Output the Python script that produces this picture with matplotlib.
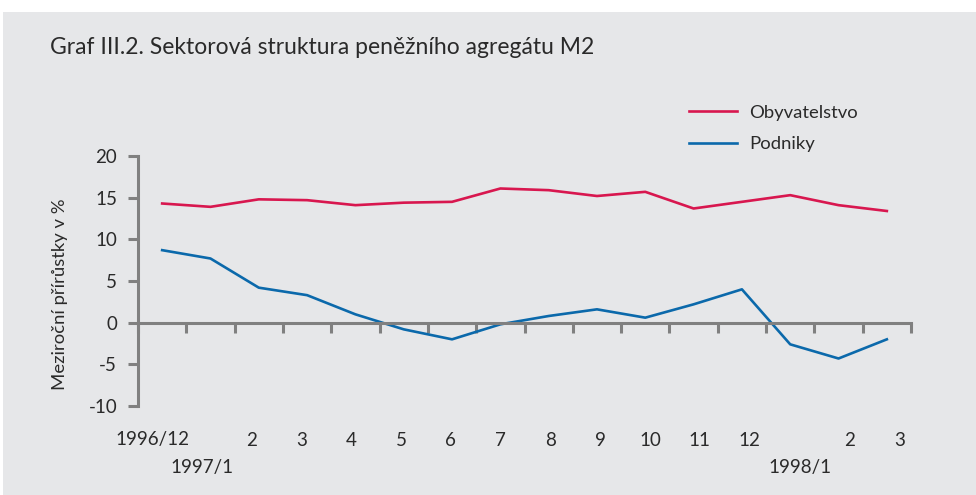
import matplotlib
matplotlib.use("Agg")
import matplotlib.pyplot as plt
import matplotlib.transforms as mtransforms

plt.rcParams['font.family'] = ['Lato', 'DejaVu Sans']

TITLE = "Graf III.2. Sektorová struktura peněžního agregátu M2"
YLABEL = "Meziroční přírůstky v %"

months = ["1996/12", "1997/1", "2", "3", "4", "5", "6", "7", "8", "9",
          "10", "11", "12", "1998/1", "2", "3"]
obyvatelstvo = [14.3, 13.9, 14.8, 14.7, 14.1, 14.4, 14.5, 16.1,
                15.9, 15.2, 15.7, 13.7, 14.5, 15.3, 14.1, 13.4]
podniky = [8.7, 7.7, 4.2, 3.3, 1.0, -0.8, -2.0, -0.2,
           0.8, 1.6, 0.6, 2.2, 4.0, -2.6, -4.3, -2.0]
yticks = [-10, -5, 0, 5, 10, 15, 20]

BG = '#e6e7e9'
AXC = '#808080'
TXT = '#2a2a2a'
RED = '#d8174f'
BLUE = '#0b69ab'

fig = plt.figure(figsize=(9.76, 4.95), dpi=100)
fig.patch.set_facecolor('white')
fig.patches.append(plt.Rectangle((3 / 976, 0), 1, 1 - 12 / 495, transform=fig.transFigure,
                                 facecolor=BG, edgecolor='none', zorder=-10))

ax = fig.add_axes([138 / 976, 1 - 406 / 495, 773 / 976, 250 / 495])
ax.patch.set_visible(False)
ax.set_zorder(5)

x = list(range(len(months)))
ax.plot(x, obyvatelstvo, color=RED, lw=1.9, label='Obyvatelstvo')
ax.plot(x, podniky, color=BLUE, lw=1.9, label='Podniky')

ax.set_xlim(-0.5, len(months) - 0.5)
ax.set_ylim(-10, 20)

for s in ['top', 'right']:
    ax.spines[s].set_visible(False)
ax.spines['bottom'].set_position(('data', 0))
for s in ['left', 'bottom']:
    ax.spines[s].set_color(AXC)
    ax.spines[s].set_linewidth(2.2)

ax.set_yticks(yticks)
ax.set_yticklabels([str(v) for v in yticks])
ax.set_xticks([i - 0.5 for i in range(len(months) + 1)])
ax.set_xticklabels([])
ax.tick_params(axis='both', color=AXC, width=2.2, length=7, direction='out')
ax.tick_params(axis='y', labelsize=13.5, labelcolor=TXT, pad=8)

# month labels, two rows (year starts go in the lower row);
# in the original the labels are spaced a bit wider than the data points
trans = mtransforms.blended_transform_factory(ax.transData, fig.transFigure)
for i, m in enumerate(months):
    row_y = 468 if i in (1, 13) else 440
    ax.text(-0.21 + 1.031 * i, 1 - row_y / 495, m, transform=trans, ha='center',
            va='center', fontsize=13.5, color=TXT)

fig.text(50 / 976, 1 - 47 / 495, TITLE, fontsize=16.5, color=TXT, va='center', ha='left')
fig.text(60 / 976, 1 - 294 / 495, YLABEL, fontsize=13.3, color=TXT, rotation=90,
         va='center', ha='center')

ax.legend(loc='upper left', bbox_to_anchor=(672 / 976, 1 - 88 / 495),
          bbox_transform=fig.transFigure, frameon=False, fontsize=13.3,
          handlelength=2.6, handletextpad=0.7, labelspacing=0.85, labelcolor=TXT)

fig.savefig('out.png', dpi=100, facecolor=fig.get_facecolor())
